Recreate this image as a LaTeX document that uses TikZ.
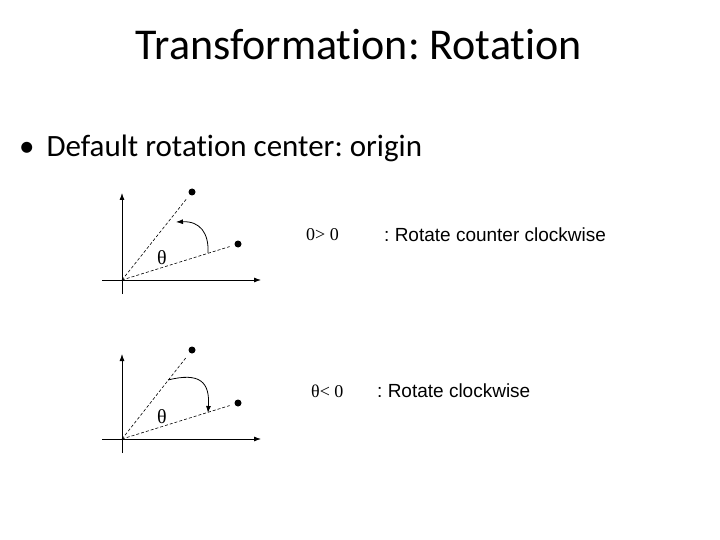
\documentclass[tikz,border=0pt]{standalone}
\usepackage{fontspec}
\setmainfont[Ligatures=NoCommon]{Carlito}
\newfontfamily\figserif{Liberation Serif}
\newfontfamily\figsans{Liberation Sans}
\usetikzlibrary{arrows.meta,positioning}
\frenchspacing

\begin{document}
\begin{tikzpicture}[
    x=1pt, y=-1pt,
    axis/.style={-{Latex[length=7pt,width=5pt]}, line width=0.8pt, draw=black},
    ray/.style={dashed, dash pattern=on 3pt off 2pt, line width=0.6pt},
    turn/.style={-{Latex[length=7pt,width=5pt]}, line width=0.8pt},
    pt/.style={circle, fill=black, inner sep=0pt, minimum size=7pt},
    greek/.style={font=\figserif\fontsize{20}{20}\selectfont, inner sep=0pt},
    cond/.style={anchor=west, inner sep=0pt, font=\figserif\fontsize{18}{18}\selectfont},
    rule/.style={anchor=west, inner sep=0pt, font=\figsans\fontsize{19}{19}\selectfont}
  ]
    \useasboundingbox (0,0) rectangle (720,540);

    \node[font=\fontsize{44}{44}\selectfont] (title) at (359,45) {Transformation: Rotation};
    \node[anchor=west, inner sep=0pt, font=\fontsize{31}{31}\selectfont] (bullet) at (19,148)
      {\textbullet\hspace{12pt}Default rotation center: origin};

    % counter clockwise
    \coordinate (o1) at (122,280);
    \coordinate (x1a) at (102,280);
    \coordinate (x1b) at (261,280);
    \coordinate (y1a) at (122,294);
    \coordinate (y1b) at (122,193);
    \node[pt] (p1) at (192,192) {};
    \node[pt] (q1) at (238,244) {};
    \coordinate (s1) at (208,253);
    \coordinate (e1) at (176,222);

    \draw[axis] (x1a) -- (x1b);
    \draw[axis] (y1a) -- (y1b);
    \draw[ray, shorten >=5pt] (o1) -- (p1);
    \draw[ray, shorten >=5pt] (o1) -- (q1);
    \draw[turn] (s1) .. controls (209,233) and (200,221) .. (e1);
    \node[greek] (t1) at (162,258) {θ};

    % clockwise
    \coordinate (o2) at (122,439);
    \coordinate (x2a) at (102,439);
    \coordinate (x2b) at (261,439);
    \coordinate (y2a) at (122,453);
    \coordinate (y2b) at (122,354);
    \node[pt] (p2) at (192,350) {};
    \node[pt] (q2) at (238,403) {};
    \coordinate (s2) at (168,380);
    \coordinate (e2) at (208,413);

    \draw[axis] (x2a) -- (x2b);
    \draw[axis] (y2a) -- (y2b);
    \draw[ray, shorten >=5pt] (o2) -- (p2);
    \draw[ray, shorten >=5pt] (o2) -- (q2);
    \draw[turn] (s2) .. controls (200,372) and (210,382) .. (e2);
    \node[greek] (t2) at (162,417) {θ};

    \node[cond] (c1) at (306,235) {0> 0};
    \node[rule] (r1) at (384,235) {: Rotate counter clockwise};
    \node[cond] (c2) at (311,391) {θ< 0};
    \node[rule] (r2) at (377,391) {: Rotate clockwise};
  \end{tikzpicture}
\end{document}
